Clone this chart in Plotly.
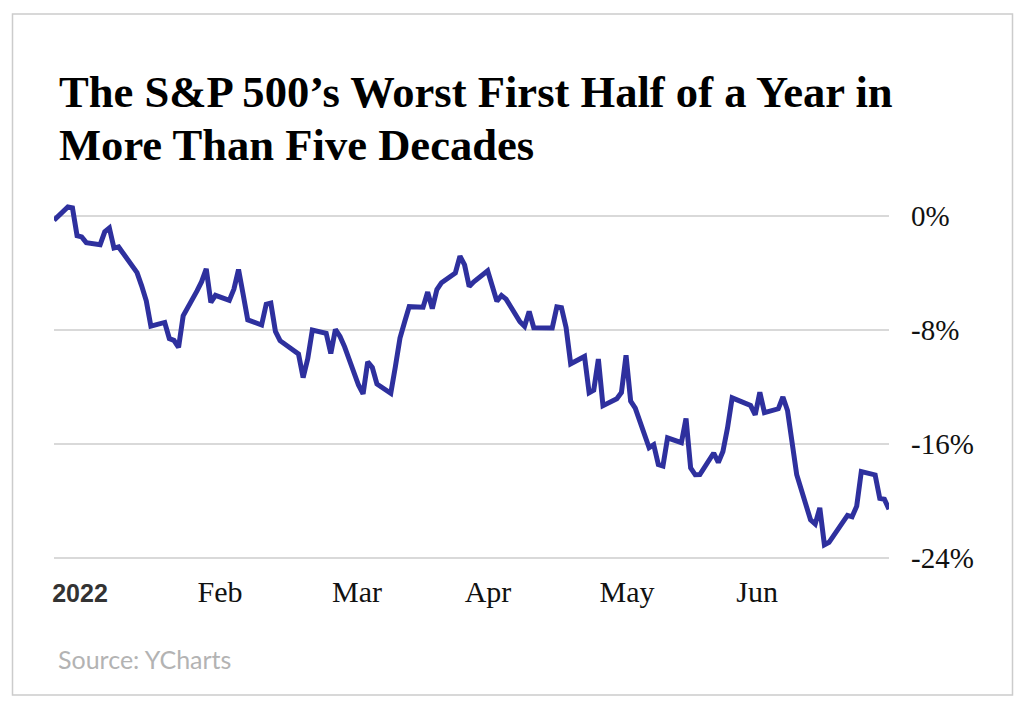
import plotly.graph_objects as go

dates = [
    "2021-12-31",
    "2022-01-03", "2022-01-04", "2022-01-05", "2022-01-06", "2022-01-07",
    "2022-01-10", "2022-01-11", "2022-01-12", "2022-01-13", "2022-01-14",
    "2022-01-18", "2022-01-19", "2022-01-20", "2022-01-21",
    "2022-01-24", "2022-01-25", "2022-01-26", "2022-01-27", "2022-01-28",
    "2022-01-31", "2022-02-01", "2022-02-02", "2022-02-03", "2022-02-04",
    "2022-02-07", "2022-02-08", "2022-02-09", "2022-02-10", "2022-02-11",
    "2022-02-14", "2022-02-15", "2022-02-16", "2022-02-17", "2022-02-18",
    "2022-02-22", "2022-02-23", "2022-02-24", "2022-02-25",
    "2022-02-28", "2022-03-01", "2022-03-02", "2022-03-03", "2022-03-04",
    "2022-03-07", "2022-03-08", "2022-03-09", "2022-03-10", "2022-03-11",
    "2022-03-14", "2022-03-15", "2022-03-16", "2022-03-17", "2022-03-18",
    "2022-03-21", "2022-03-22", "2022-03-23", "2022-03-24", "2022-03-25",
    "2022-03-28", "2022-03-29", "2022-03-30", "2022-03-31", "2022-04-01",
    "2022-04-04", "2022-04-05", "2022-04-06", "2022-04-07", "2022-04-08",
    "2022-04-11", "2022-04-12", "2022-04-13", "2022-04-14",
    "2022-04-18", "2022-04-19", "2022-04-20", "2022-04-21", "2022-04-22",
    "2022-04-25", "2022-04-26", "2022-04-27", "2022-04-28", "2022-04-29",
    "2022-05-02", "2022-05-03", "2022-05-04", "2022-05-05", "2022-05-06",
    "2022-05-09", "2022-05-10", "2022-05-11", "2022-05-12", "2022-05-13",
    "2022-05-16", "2022-05-17", "2022-05-18", "2022-05-19", "2022-05-20",
    "2022-05-23", "2022-05-24", "2022-05-25", "2022-05-26", "2022-05-27",
    "2022-05-31", "2022-06-01", "2022-06-02", "2022-06-03",
    "2022-06-06", "2022-06-07", "2022-06-08", "2022-06-09", "2022-06-10",
    "2022-06-13", "2022-06-14", "2022-06-15", "2022-06-16", "2022-06-17",
    "2022-06-21", "2022-06-22", "2022-06-23", "2022-06-24",
    "2022-06-27", "2022-06-28", "2022-06-29", "2022-06-30",
]

pct_change = [
    -0.30,
    0.64, 0.57, -1.38, -1.47, -1.87,
    -2.01, -1.11, -0.84, -2.25, -2.17,
    -3.97, -4.90, -5.95, -7.73,
    -7.47, -8.60, -8.73, -9.22, -7.01,
    -5.26, -4.61, -3.71, -6.06, -5.57,
    -5.92, -5.13, -3.76, -5.50, -7.29,
    -7.65, -6.19, -6.11, -8.10, -8.75,
    -9.68, -11.34, -10.02, -8.00,
    -8.23, -9.65, -7.96, -8.45, -9.18,
    -11.86, -12.49, -10.24, -10.63, -11.79,
    -12.44, -10.57, -8.57, -7.44, -6.36,
    -6.40, -5.34, -6.50, -5.16, -4.68,
    -4.00, -2.82, -3.43, -4.95, -4.62,
    -3.85, -5.06, -5.98, -5.58, -5.83,
    -7.42, -7.74, -6.70, -7.84,
    -7.86, -6.38, -6.44, -7.82, -10.37,
    -9.86, -12.40, -12.22, -10.04, -13.31,
    -12.82, -12.39, -9.78, -12.99, -13.49,
    -16.26, -16.05, -17.44, -17.54, -15.57,
    -15.91, -14.21, -17.68, -18.16, -18.15,
    -16.63, -17.30, -16.52, -14.86, -12.76,
    -13.30, -13.95, -12.37, -13.80,
    -13.53, -12.70, -13.65, -15.70, -18.16,
    -21.33, -21.62, -20.48, -23.07, -22.90,
    -21.01, -21.11, -20.36, -17.93,
    -18.17, -19.82, -19.88, -20.58,
]

x_tick_positions = ["2022-01-05 15:20", "2022-02-04 23:45", "2022-03-06 16:20",
                    "2022-04-04 02:00", "2022-05-04 05:00", "2022-06-01 10:00"]
x_tick_labels = ['<span style="font-family:Liberation Sans, Arial;font-weight:bold;font-size:25px;color:#333333">2022</span>',
                 "Feb", "Mar", "Apr", "May", "Jun"]
y_tick_values = [0, -8, -16, -24]
y_tick_labels = ["0%", "-8%", "-16%", "-24%"]

title_lines = ["The S&amp;P 500’s Worst First Half of a Year in", "More Than Five Decades"]
source_text = "Source: YCharts"

LINE_COLOR = "#2e309e"
GRID_COLOR = "#d9d9d9"
SERIF = "Liberation Serif, Times New Roman, serif"

fig = go.Figure()
fig.add_trace(go.Scatter(
    x=dates, y=pct_change, mode="lines",
    line=dict(color=LINE_COLOR, width=5),
    hoverinfo="skip", showlegend=False,
))

L, R, T, B = 54, 135, 195, 143
W, H = 1024, 707
pw, ph = W - L - R, H - T - B

def px_x(p):
    return (p - L) / pw

def px_y(p):
    return (H - B - p) / ph

fig.update_layout(
    width=W, height=H,
    margin=dict(l=L, r=R, t=T, b=B, autoexpand=False),
    paper_bgcolor="white", plot_bgcolor="white",
    showlegend=False,
    xaxis=dict(
        type="date",
        range=["2021-12-31", "2022-06-30"],
        tickmode="array", tickvals=x_tick_positions, ticktext=x_tick_labels,
        showgrid=False, zeroline=False, showline=False, ticks="",
        tickfont=dict(family=SERIF, size=30, color="#111111"),
        ticklabelstandoff=7,
    ),
    yaxis=dict(
        side="right",
        range=[-24 - 6 / 14.25, 21 / 14.25],
        tickmode="array", tickvals=y_tick_values, ticktext=y_tick_labels,
        showgrid=True, gridcolor=GRID_COLOR, gridwidth=1.5,
        zeroline=False, showline=False, ticks="",
        tickfont=dict(family=SERIF, size=29, color="#111111"),
        ticklabelstandoff=21,
    ),
    shapes=[dict(
        type="rect", xref="paper", yref="paper",
        x0=px_x(12.5), x1=px_x(1012.5), y0=px_y(695), y1=px_y(14),
        line=dict(color="#cccccc", width=1.5), fillcolor="rgba(0,0,0,0)",
        layer="below",
    )],
    annotations=[
        dict(text="<b>" + title_lines[0] + "</b>", xref="paper", yref="paper",
             x=px_x(57), y=px_y(92), xanchor="left", yanchor="middle",
             showarrow=False, font=dict(family=SERIF, size=44.6, color="#000000")),
        dict(text="<b>" + title_lines[1] + "</b>", xref="paper", yref="paper",
             x=px_x(57), y=px_y(145), xanchor="left", yanchor="middle",
             showarrow=False, font=dict(family=SERIF, size=44.6, color="#000000")),
        dict(text=source_text, xref="paper", yref="paper",
             x=px_x(56), y=px_y(659), xanchor="left", yanchor="middle",
             showarrow=False, font=dict(family="Lato, Open Sans, sans-serif", size=25, color="#b3b3b3")),
    ],
)

fig.write_html("out.html")
